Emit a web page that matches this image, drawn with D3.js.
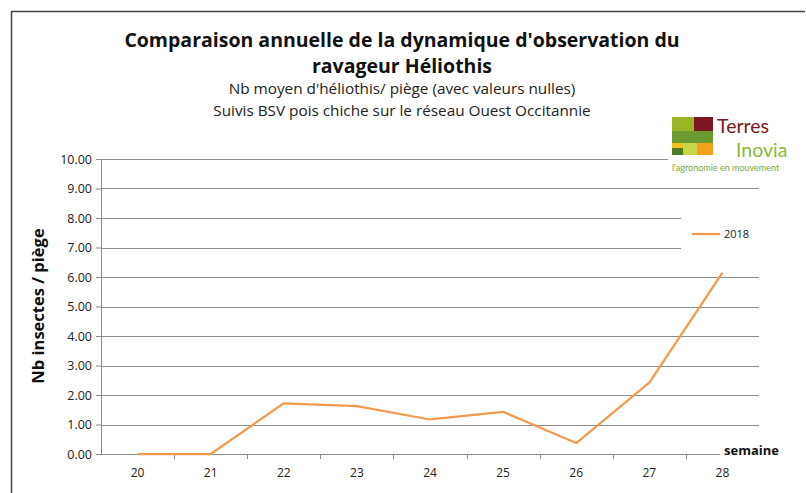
<!DOCTYPE html>
<html>
<head>
<meta charset="utf-8">
<script src="https://d3js.org/d3.v7.min.js"></script>
<style>
  body { margin: 0; background: #fff; }
  text { font-family: "Open Sans", "Noto Sans", sans-serif; }
</style>
</head>
<body>
<div id="my_dataviz"></div>
<script>
// data
var weeks = ["20", "21", "22", "23", "24", "25", "26", "27", "28"];
var values2018 = [0, 0, 1.72, 1.62, 1.17, 1.43, 0.37, 2.42, 6.15];
var yTicks = [0, 1, 2, 3, 4, 5, 6, 7, 8, 9, 10];
var seriesName = "2018";

var W = 806, H = 493;
var margin = {top: 159, right: 47, bottom: 39, left: 101};
var width = W - margin.left - margin.right,
    height = H - margin.top - margin.bottom;

var svg = d3.select("#my_dataviz").append("svg")
  .attr("width", W)
  .attr("height", H);

// outer frame (top + left only visible)
svg.append("path")
  .attr("d", "M11.5,493 L11.5,11.5 L805,11.5")
  .attr("fill", "none")
  .attr("stroke", "#444")
  .attr("stroke-width", 1.5);

var g = svg.append("g")
  .attr("transform", "translate(" + margin.left + "," + margin.top + ")");

var x = d3.scaleBand().domain(weeks).range([0, width]);
var y = d3.scaleLinear().domain([0, 10]).range([height, 0]);

// gridlines
g.append("g")
  .selectAll("line")
  .data(yTicks.filter(function(d) { return d > 0; }))
  .enter().append("line")
    .attr("x1", 0).attr("x2", width)
    .attr("y1", function(d) { return Math.round(y(d)) + 0.5; })
    .attr("y2", function(d) { return Math.round(y(d)) + 0.5; })
    .attr("stroke", "#8c8c8c")
    .attr("stroke-width", 1);

// y axis
var yAxis = g.append("g")
  .call(d3.axisLeft(y).tickValues(yTicks).tickSize(5).tickFormat(d3.format(".2f")));
yAxis.select(".domain").attr("stroke", "#8c8c8c");
yAxis.selectAll(".tick line").attr("stroke", "#8c8c8c");
yAxis.selectAll("text")
  .attr("font-size", 12.5)
  .attr("fill", "#222")
  .attr("x", -9);

// x axis, ticks on band boundaries
var xAxis = g.append("g")
  .attr("transform", "translate(0," + height + ")")
  .call(d3.axisBottom(x).tickSize(0).tickPadding(14));
xAxis.select(".domain").attr("stroke", "#8c8c8c");
xAxis.selectAll("text")
  .attr("font-size", 12)
  .attr("fill", "#222");
g.append("g")
  .selectAll("line")
  .data(weeks.slice(1))
  .enter().append("line")
    .attr("x1", function(d) { return Math.round(x(d)) + 0.5; })
    .attr("x2", function(d) { return Math.round(x(d)) + 0.5; })
    .attr("y1", height).attr("y2", height + 5)
    .attr("stroke", "#8c8c8c");

// series line
var line = d3.line()
  .x(function(d, i) { return x(weeks[i]) + x.bandwidth() / 2; })
  .y(function(d) { return y(d); });

g.append("path")
  .datum(values2018)
  .attr("d", line)
  .attr("fill", "none")
  .attr("stroke", "#f39a4f")
  .attr("stroke-width", 2.25)
  .attr("stroke-linejoin", "round");

// "semaine" label, with white box hiding the end of the axis
svg.append("rect")
  .attr("x", 720).attr("y", 440).attr("width", 80).attr("height", 18)
  .attr("fill", "#fff");
svg.append("text")
  .attr("x", 724).attr("y", 455)
  .attr("font-size", 13)
  .attr("font-weight", "bold")
  .attr("fill", "#111")
  .text("semaine");

// legend
svg.append("rect")
  .attr("x", 681).attr("y", 210).attr("width", 80).attr("height", 45)
  .attr("fill", "#fff");
svg.append("line")
  .attr("x1", 692).attr("x2", 720).attr("y1", 234).attr("y2", 234)
  .attr("stroke", "#f39a4f").attr("stroke-width", 2.25);
svg.append("text")
  .attr("x", 724).attr("y", 238)
  .attr("font-size", 11)
  .attr("fill", "#222")
  .text(seriesName);

// titles
svg.append("text")
  .attr("x", 402).attr("y", 47)
  .attr("text-anchor", "middle")
  .attr("font-size", 19.5)
  .attr("font-weight", "bold")
  .attr("fill", "#111")
  .text("Comparaison annuelle de la dynamique d'observation du");
svg.append("text")
  .attr("x", 402).attr("y", 73)
  .attr("text-anchor", "middle")
  .attr("font-size", 19.5)
  .attr("font-weight", "bold")
  .attr("fill", "#111")
  .text("ravageur Héliothis");
svg.append("text")
  .attr("x", 402).attr("y", 94)
  .attr("text-anchor", "middle")
  .attr("font-size", 15.3)
  .attr("fill", "#222")
  .text("Nb moyen d'héliothis/ piège (avec valeurs nulles)");
svg.append("text")
  .attr("x", 402).attr("y", 116)
  .attr("text-anchor", "middle")
  .attr("font-size", 15.3)
  .attr("fill", "#222")
  .text("Suivis BSV pois chiche sur le réseau Ouest Occitannie");

// y axis title
svg.append("text")
  .attr("transform", "translate(44,306) rotate(-90)")
  .attr("text-anchor", "middle")
  .attr("font-size", 16.5)
  .attr("font-weight", "bold")
  .attr("fill", "#111")
  .text("Nb insectes / piège");

// Terres Inovia logo
var logo = svg.append("g");
logo.append("rect").attr("x", 668).attr("y", 112).attr("width", 138).attr("height", 60).attr("fill", "#fff");
var blocks = [
  [672, 117, 22, 14, "#9ab525"],
  [694, 117, 19, 14, "#7c1622"],
  [672, 131, 41, 12, "#6b9a30"],
  [672, 143, 11, 5, "#f2c31c"],
  [672, 148, 11, 7, "#4f7a22"],
  [683, 143, 14, 12, "#c8d64c"],
  [697, 143, 16, 12, "#f1a21a"]
];
logo.selectAll("rect.b").data(blocks).enter().append("rect")
  .attr("class", "b")
  .attr("x", function(d) { return d[0]; })
  .attr("y", function(d) { return d[1]; })
  .attr("width", function(d) { return d[2]; })
  .attr("height", function(d) { return d[3]; })
  .attr("fill", function(d) { return d[4]; });
logo.append("text").attr("x", 717).attr("y", 133)
  .attr("font-size", 19.5).attr("fill", "#7c1622")
  .style("font-family", "Lato, sans-serif")
  .text("Terres");
logo.append("text").attr("x", 736).attr("y", 157)
  .attr("font-size", 19.5).attr("fill", "#8cb83a")
  .style("font-family", "Lato, sans-serif")
  .text("Inovia");
logo.append("text").attr("x", 672).attr("y", 171)
  .attr("font-size", 9).attr("fill", "#7aa83a")
  .style("font-family", "Lato, sans-serif")
  .text("l'agronomie en mouvement");
</script>
</body>
</html>
